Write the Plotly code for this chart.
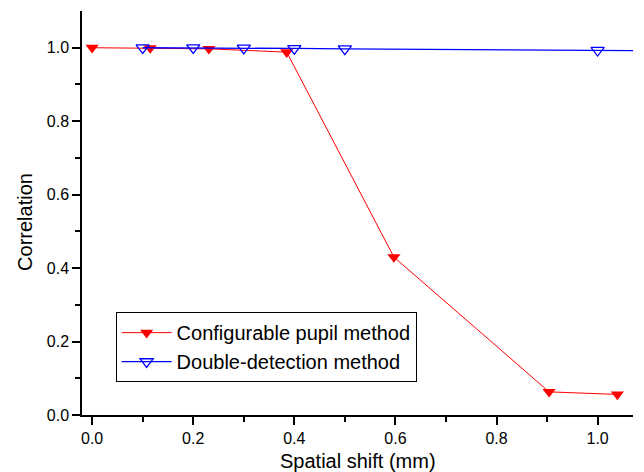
import plotly.graph_objects as go

# Data
pupil_x = [0.0, 0.115, 0.231, 0.385, 0.597, 0.904, 1.039]
pupil_y = [1.0, 0.999, 0.997, 0.988, 0.43, 0.063, 0.056]

double_x = [0.1, 0.2, 0.3, 0.4, 0.5, 1.0, 1.2]
double_y = [1.0, 1.0, 0.999, 0.998, 0.997, 0.993, 0.991]

x_ticks = [0.0, 0.2, 0.4, 0.6, 0.8, 1.0]
y_ticks = [0.0, 0.2, 0.4, 0.6, 0.8, 1.0]
minor_ticks = [0.1, 0.3, 0.5, 0.7, 0.9]

x_title = "Spatial shift (mm)"
y_title = "Correlation"

FONT = "Liberation Sans, Arial, sans-serif"

fig = go.Figure()
fig.add_trace(go.Scatter(
    x=pupil_x, y=pupil_y, mode="lines+markers",
    name="Configurable pupil method",
    line=dict(color="#ff0000", width=1),
    marker=dict(symbol="triangle-down", size=11.5, color="#ff0000",
                line=dict(width=0)),
))
fig.add_trace(go.Scatter(
    x=double_x, y=double_y, mode="lines+markers",
    name="Double-detection method",
    line=dict(color="#0000ff", width=1.3),
    marker=dict(symbol="triangle-down-open", size=11.5, color="#0000ff",
                line=dict(width=1.3, color="#0000ff")),
))

axis_common = dict(
    showgrid=False, zeroline=False, showline=True, linecolor="black",
    linewidth=1.5, ticks="outside", ticklen=8, tickwidth=1.5,
    tickcolor="black", tickfont=dict(family=FONT, size=16, color="black"),
    automargin=False,
    minor=dict(ticks="outside", ticklen=5, tickwidth=1.5, tickcolor="black",
               tickmode="array", tickvals=minor_ticks, showgrid=False),
)

fig.update_xaxes(
    range=[-0.02, 1.07], tickmode="array", tickvals=x_ticks,
    ticktext=[f"{v:.1f}" for v in x_ticks],
    **axis_common,
)
fig.update_yaxes(
    range=[0.0, 1.1], tickmode="array", tickvals=y_ticks,
    ticktext=[f"{v:.1f}" for v in y_ticks],
    **axis_common,
)

fig.add_annotation(
    text=x_title, xref="paper", yref="paper", x=0.5, y=0,
    xanchor="center", yanchor="middle", yshift=-46, showarrow=False,
    font=dict(family=FONT, size=20, color="black"),
)
fig.add_annotation(
    text=y_title, xref="paper", yref="paper", x=0, y=0.478,
    xanchor="center", yanchor="middle", xshift=-57, textangle=-90,
    showarrow=False, font=dict(family=FONT, size=20, color="black"),
)

# The page body has an 8px default margin, so the figure is 8px smaller
fig.update_layout(
    width=636, height=464,
    margin=dict(l=74, r=11, t=3, b=57),
    paper_bgcolor="white", plot_bgcolor="white",
    font=dict(family=FONT, color="black"),
    showlegend=True,
    legend=dict(
        x=0.061, y=0.168, xanchor="left", yanchor="middle",
        bordercolor="black", borderwidth=1, bgcolor="white",
        font=dict(family=FONT, size=20, color="black"),
        itemwidth=50, tracegroupgap=0,
    ),
)

fig.write_html("out.html")
